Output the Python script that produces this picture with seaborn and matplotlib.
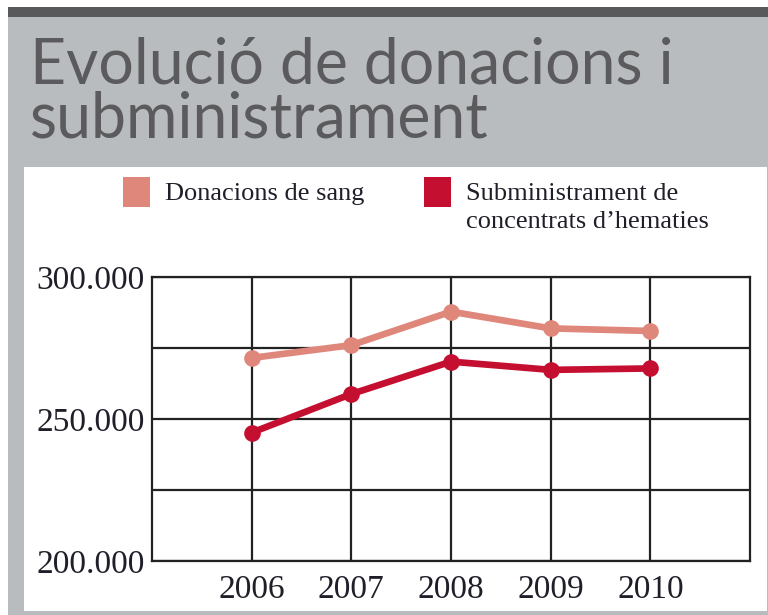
import matplotlib
matplotlib.use("Agg")
import matplotlib.pyplot as plt
import matplotlib.ticker as mticker
from matplotlib.patches import Rectangle
import seaborn as sns
import pandas as pd

# data
years = [2006, 2007, 2008, 2009, 2010]
donacions = [271500, 276000, 287800, 281900, 281000]
subministrament = [245200, 258800, 270200, 267300, 267800]
series_names = ["Donacions de sang", "Subministrament de\nconcentrats d\u2019hematies"]
y_ticks = [200000, 250000, 300000]

title_lines = ["Evoluci\u00f3 de donacions i", "subministrament"]

PINK = "#e0877b"
RED = "#c50f31"
GRAY = "#b9bcbf"
DARK = "#58595b"

df = pd.DataFrame({
    "any": years * 2,
    "valor": donacions + subministrament,
    "serie": [series_names[0]] * len(years) + [series_names[1]] * len(years),
})

sns.set_style("white")
W, H = 768, 615
fig = plt.figure(figsize=(W / 100, H / 100), dpi=100)
fig.patch.set_facecolor("white")

# background panels (pixel coords -> figure fraction)
def px_rect(x0, y0, x1, y1, color):
    fig.add_artist(Rectangle((x0 / W, 1 - y1 / H), (x1 - x0) / W, (y1 - y0) / H,
                             transform=fig.transFigure, facecolor=color,
                             edgecolor="none", zorder=0))

px_rect(8, 7, W, H, GRAY)
px_rect(8, 7, W, 17, DARK)
px_rect(24, 167, W - 1, 611, "white")

ax = fig.add_axes([152 / W, 1 - 561 / H, (750 - 152) / W, (561 - 277) / H])
ax.set_facecolor("white")

sns.lineplot(data=df, x="any", y="valor", hue="serie", palette=[PINK, RED],
             marker="o", markersize=12, markeredgewidth=0, linewidth=4.8,
             legend=False, ax=ax, zorder=5)

ax.set_xlim(2005, 2011)
ax.set_ylim(200000, 300000)
ax.set_xticks(years)
ax.set_yticks(y_ticks)
ax.yaxis.set_minor_locator(mticker.MultipleLocator(25000))
ax.yaxis.set_major_formatter(mticker.FuncFormatter(lambda v, p: f"{int(v):,}".replace(",", ".")))
ax.grid(True, which="both", color="#222222", linewidth=1.6)
ax.set_axisbelow(True)
for s in ax.spines.values():
    s.set_visible(True)
    s.set_color("#222222")
    s.set_linewidth(1.6)
ax.tick_params(axis="both", which="both", length=0, labelsize=24, labelcolor="#1f1f2a")
ax.tick_params(axis="y", pad=5)
ax.tick_params(axis="x", pad=10)
for lab in ax.get_xticklabels() + ax.get_yticklabels():
    lab.set_family("Liberation Serif")
ax.set_xlabel("")
ax.set_ylabel("")

# title
fig.text(30 / W, 1 - 83 / H, title_lines[0], fontsize=45, family="Lato",
         color="#5b5b5d", va="baseline", ha="left")
fig.text(30 / W, 1 - 138 / H, title_lines[1], fontsize=45, family="Lato",
         color="#5b5b5d", va="baseline", ha="left")

# legend made of squares and text
for x0, color, name in [(123, PINK, series_names[0]), (424, RED, series_names[1])]:
    px_rect(x0, 177, x0 + 27, 207, color)
    fig.text((x0 + 42) / W, 1 - 200 / H, name.split("\n")[0], fontsize=19,
             family="Liberation Serif", color="#1f1f2a", va="baseline")
    if "\n" in name:
        fig.text((x0 + 42) / W, 1 - 228 / H, name.split("\n")[1], fontsize=19,
                 family="Liberation Serif", color="#1f1f2a", va="baseline")

fig.savefig("out.png", dpi=100)
